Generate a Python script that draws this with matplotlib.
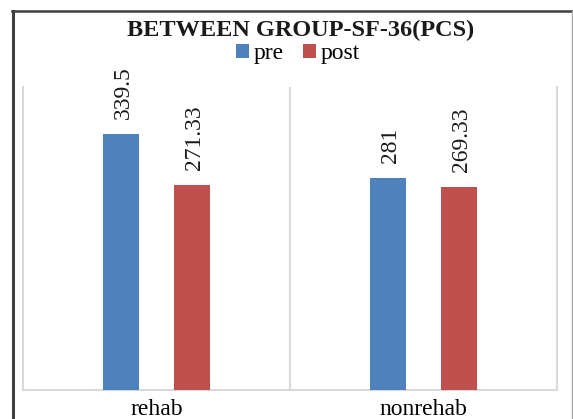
import matplotlib
matplotlib.use("Agg")
import matplotlib.pyplot as plt
from matplotlib.patches import Patch
from matplotlib.lines import Line2D
import numpy as np

categories = ["rehab", "nonrehab"]
series_names = ["pre", "post"]
pre_values = [339.5, 281]
post_values = [271.33, 269.33]
title = "BETWEEN GROUP-SF-36(PCS)"

W, H = 573, 419
fig = plt.figure(figsize=(W / 100, H / 100), dpi=100)
fig.patch.set_facecolor("white")

def fx(px):
    return px / W

def fy(py):
    return 1 - py / H

plt.rcParams["font.family"] = ["Liberation Serif", "DejaVu Serif"]

# outer chart border (partially visible)
fig.add_artist(Line2D([fx(13), fx(13)], [fy(11), fy(419)], color="#404040", lw=2.2,
                      transform=fig.transFigure))
fig.add_artist(Line2D([fx(12), fx(573)], [fy(11.5), fy(11.5)], color="#404040", lw=1.8,
                      transform=fig.transFigure))
fig.add_artist(Line2D([fx(572), fx(572)], [fy(11), fy(419)], color="#A6A6A6", lw=1.0,
                      transform=fig.transFigure))

ax = fig.add_axes([fx(23), fy(390), fx(557) - fx(23), fy(87) - fy(390)])
x = np.arange(len(categories))
bw = 0.135
off = 0.133
colors = ["#4F81BD", "#C0504D"]
b1 = ax.bar(x - off, pre_values, bw, color=colors[0], zorder=3)
b2 = ax.bar(x + off, post_values, bw, color=colors[1], zorder=3)

for bars, vals in ((b1, pre_values), (b2, post_values)):
    for rect, v in zip(bars, vals):
        ax.annotate(f"{v:g}", (rect.get_x() + rect.get_width() / 2, rect.get_height()),
                    xytext=(1.5, 11), textcoords="offset points", rotation=90,
                    ha="center", va="bottom", fontsize=17, color="#1a1a1a")

ax.set_xlim(-0.5, len(categories) - 0.5)
ax.set_ylim(0, 402)
for b in np.arange(0.5, len(categories) - 0.5, 1):
    ax.axvline(b, color="#D9D9D9", lw=1.5, zorder=1)
for side in ("left", "right", "bottom"):
    ax.spines[side].set_color("#D9D9D9")
    ax.spines[side].set_linewidth(1.5)
ax.spines["top"].set_visible(False)
ax.set_yticks([])
ax.set_xticks(x)
ax.set_xticklabels(categories, fontsize=17)
ax.tick_params(axis="x", length=0, pad=6.5)

fig.text(fx(301), fy(30), title, ha="center", va="center", fontsize=17.5, fontweight="bold",
         color="#1a1a1a")

handles = [Patch(facecolor=c, edgecolor="none") for c in colors]
fig.legend(handles, series_names, loc="center", bbox_to_anchor=(fx(298), fy(54)), ncol=2,
           frameon=False, fontsize=17, handlelength=0.55, handleheight=0.5,
           handletextpad=0.2, columnspacing=0.8, borderpad=0, borderaxespad=0)

fig.savefig("out.png", dpi=100, facecolor="white")
